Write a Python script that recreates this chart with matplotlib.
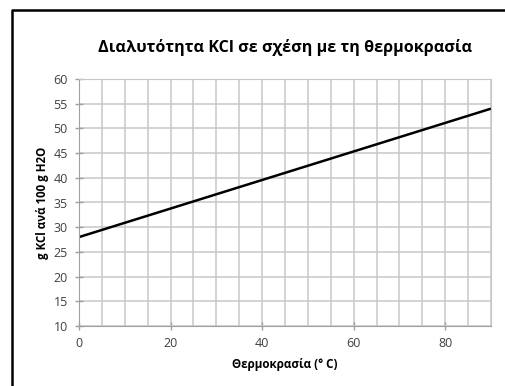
import matplotlib
matplotlib.use("Agg")
import matplotlib.pyplot as plt
from matplotlib.lines import Line2D
from matplotlib.ticker import MultipleLocator

plt.rcParams['font.family'] = ['Open Sans', 'DejaVu Sans']

# KCl solubility (g per 100 g water) vs temperature, straight-line fit
temperature = [0, 90]
solubility = [28.0, 54.0]

title = "Διαλυτότητα KCl σε σχέση με τη θερμοκρασία"
xlabel = "Θερμοκρασία (° C)"
ylabel = "g KCl ανά 100 g H2O"

fig = plt.figure(figsize=(5.06, 3.86), dpi=100)
ax = fig.add_axes([79 / 506, 1 - 326 / 386, 412 / 506, 247 / 386])

ax.plot(temperature, solubility, color="black", lw=1.8, solid_capstyle="butt")

ax.set_xlim(0, 90)
ax.set_ylim(10, 60)
ax.xaxis.set_major_locator(MultipleLocator(20))
ax.xaxis.set_minor_locator(MultipleLocator(5))
ax.yaxis.set_major_locator(MultipleLocator(5))

ax.grid(which="both", axis="x", color="#c8c8c8", lw=1.1)
ax.grid(which="major", axis="y", color="#c8c8c8", lw=1.1)
ax.set_axisbelow(True)

for side in ["top", "right"]:
    ax.spines[side].set_color("#c8c8c8")
for side in ["left", "bottom"]:
    ax.spines[side].set_color("#a0a0a0")
ax.tick_params(which="major", direction="inout", length=6, width=1,
               color="#a0a0a0", labelsize=9, labelcolor="#404040", pad=5)
ax.tick_params(which="minor", length=0)

ax.set_xlabel(xlabel, fontsize=8.4, fontweight="bold", labelpad=6)
ax.set_ylabel(ylabel, fontsize=8.3, fontweight="bold", labelpad=3)

fig.text(285 / 506, 1 - 47 / 386, title, ha="center", va="center",
         fontsize=11.6, fontweight="bold")

# chart frame: only the left and top edges fall inside the image
x0, y0 = 12 / 506, 1 - 10 / 386
fig.lines.append(Line2D([x0, x0, 1.0], [0.0, y0, y0],
                        transform=fig.transFigure, color="black", lw=1.8))

fig.savefig("out.png", dpi=100)
